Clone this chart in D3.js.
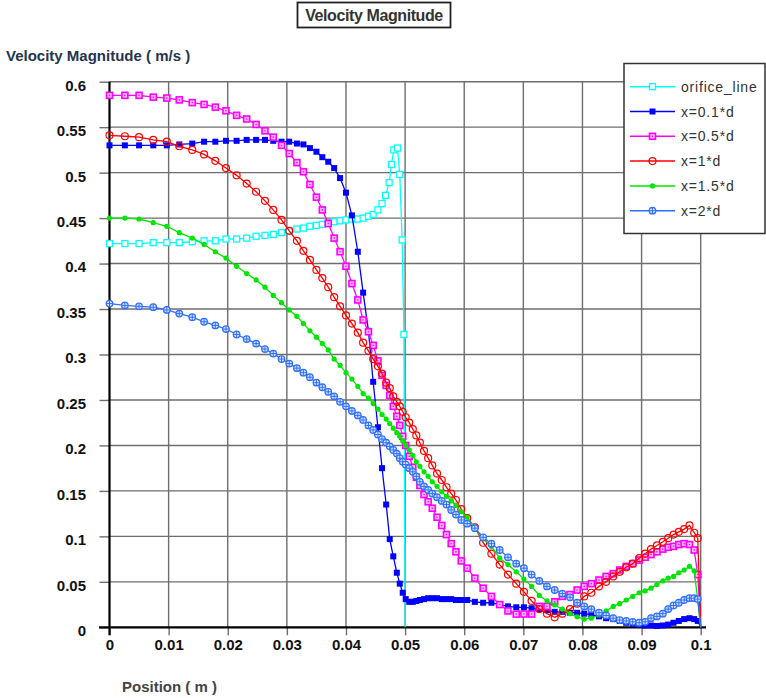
<!DOCTYPE html>
<html>
<head>
<meta charset="utf-8">
<title>Velocity Magnitude</title>
<script src="https://cdnjs.cloudflare.com/ajax/libs/d3/7.8.5/d3.min.js"></script>
<style>
  body { margin: 0; background: #fff; }
  svg { display: block; font-family: "Liberation Sans", Arial, sans-serif; }
</style>
</head>
<body>
<svg width="766" height="698"></svg>
<script>
// mesh positions (m) shared by the axial lines
var meshPos = [0, 0.0026, 0.0050, 0.0074, 0.0097, 0.0118, 0.0140, 0.0160, 0.0179, 0.0197,
  0.0215, 0.0232, 0.0248, 0.0263, 0.0277, 0.0291, 0.0304, 0.0317, 0.0328, 0.0339,
  0.0350, 0.0360, 0.0370, 0.0380, 0.0390, 0.0400, 0.0410, 0.0420, 0.0429, 0.0438,
  0.0446, 0.0454, 0.0461, 0.0468, 0.0474, 0.0480, 0.0486, 0.0491, 0.0496, 0.0501,
  0.0507, 0.0513, 0.0519, 0.0525, 0.0532, 0.0539, 0.0546, 0.0554, 0.0562, 0.0570,
  0.0578, 0.0586, 0.0595, 0.0605, 0.0618, 0.0632, 0.0646, 0.0660, 0.0674, 0.0688,
  0.0701, 0.0714, 0.0727, 0.0740, 0.0753, 0.0766, 0.0779, 0.0791, 0.0803, 0.0815,
  0.0828, 0.0840, 0.0852, 0.0863, 0.0874, 0.0885, 0.0896, 0.0906, 0.0916, 0.0926,
  0.0936, 0.0945, 0.0954, 0.0963, 0.0972, 0.0981, 0.0989, 0.0995, 0.1000];

var vel01d = [.530, .530, .530, .530, .530, .531, .532, .534, .534, .535,
  .535, .536, .536, .536, .535, .534, .534, .532, .531, .527,
  .523, .517, .512, .505, .494, .478, .453, .413, .368, .326,
  .270, .220, .175, .135, .097, .078, .060, .048, .038, .031,
  .028, .028, .029, .030, .031, .032, .032, .032, .031, .031,
  .031, .030, .030, .030, .028, .027, .027, .025, .023, .022,
  .022, .021, .020, .019, .017, .017, .016, .016, .015, .014,
  .012, .010, .009, .007, .005, .004, .003, .002, .002, .0015,
  .002, .003, .005, .007, .009, .010, .009, .007, 0];

var vel05d = [.585, .585, .585, .583, .582, .580, .577, .575, .572, .568,
  .563, .559, .553, .546, .539, .530, .521, .511, .501, .487,
  .473, .459, .444, .428, .413, .397, .378, .360, .338, .325,
  .310, .293, .277, .266, .255, .243, .232, .222, .210, .200,
  .188, .176, .165, .156, .146, .138, .131, .121, .112, .102,
  .092, .083, .073, .065, .054, .043, .034, .025, .018, .0145,
  .0146, .0146, .023, .023, .028, .034, .036, .041, .045, .048,
  .052, .056, .059, .063, .067, .070, .074, .077, .080, .083,
  .086, .088, .089, .091, .092, .091, .085, .058, 0];

var vel1d = [.541, .540, .539, .536, .534, .529, .525, .520, .513, .505,
  .497, .488, .479, .469, .459, .448, .436, .425, .414, .404,
  .393, .384, .374, .363, .353, .343, .334, .324, .313, .304,
  .295, .287, .279, .269, .263, .254, .248, .243, .237, .231,
  .225, .218, .211, .203, .194, .186, .178, .169, .162, .154,
  .147, .140, .130, .120, .110, .093, .081, .069, .058, .048,
  .039, .029, .020, .015, .011, .015, .020, .026, .034, .038,
  .045, .050, .056, .061, .066, .070, .076, .081, .086, .090,
  .094, .098, .102, .105, .108, .112, .104, .098, 0];

var vel15d = [.450, .450, .449, .445, .441, .434, .428, .421, .413, .406,
  .397, .389, .382, .374, .365, .357, .349, .342, .334, .326,
  .319, .312, .305, .295, .288, .280, .273, .265, .257, .252,
  .246, .240, .234, .229, .224, .219, .214, .210, .205, .200,
  .195, .189, .182, .177, .171, .166, .160, .155, .149, .144,
  .139, .134, .127, .121, .109, .097, .089, .076, .069, .061,
  .053, .045, .035, .029, .0245, .020, .015, .0115, .009, .010,
  .0135, .018, .023, .026, .030, .034, .038, .040, .043, .047,
  .051, .054, .056, .060, .063, .067, .062, .030, 0];

var vel2d = [.356, .354, .353, .352, .349, .345, .341, .336, .332, .328,
  .322, .317, .312, .306, .301, .295, .290, .285, .280, .275,
  .269, .264, .259, .254, .248, .243, .238, .233, .228, .222,
  .217, .212, .207, .203, .199, .195, .191, .186, .182, .179,
  .175, .171, .166, .160, .155, .151, .147, .143, .139, .135,
  .129, .124, .118, .114, .109, .099, .092, .085, .077, .070,
  .065, .058, .051, .045, .041, .037, .033, .027, .023, .020,
  .016, .013, .010, .008, .007, .006, .005, .006, .010, .012,
  .015, .020, .024, .027, .030, .032, .032, .031, 0];

// orifice line has its own sampling
var orificePos = [0, 0.0026, 0.0050, 0.0074, 0.0097, 0.0118, 0.0140, 0.0160, 0.0179, 0.0197,
  0.0215, 0.0232, 0.0248, 0.0263, 0.0277, 0.0291, 0.0304, 0.0317, 0.0328, 0.0339,
  0.0350, 0.0360, 0.0370, 0.0380, 0.0390, 0.0400, 0.0410, 0.0420, 0.0429, 0.0438,
  0.0446, 0.0454, 0.0461, 0.0467, 0.0473, 0.0477, 0.0481, 0.0487, 0.0491, 0.0495,
  0.0498, 0.0500];
var orificeVel = [.422, .422, .422, .423, .423, .423, .424, .425, .425, .427,
  .427, .428, .430, .431, .432, .434, .436, .438, .439, .441,
  .442, .443, .445, .446, .447, .448, .449, .449, .450, .452,
  .454, .459, .466, .475, .489, .509, .525, .527, .498, .426,
  .322, 0];

var seriesNames = ["orifice_line", "x=0.1*d", "x=0.5*d", "x=1*d", "x=1.5*d", "x=2*d"];
var seriesColors = ["#00ffff", "#0000ff", "#ff00ff", "#ff0000", "#00e600", "#2f6fff"];
var seriesMarkers = ["openSquare", "filledSquare", "dotSquare", "openCircle", "dot", "crossCircle"];

var xTicks = [0, 0.01, 0.02, 0.03, 0.04, 0.05, 0.06, 0.07, 0.08, 0.09, 0.1];
var xTickLabels = ["0", "0.01", "0.02", "0.03", "0.04", "0.05", "0.06", "0.07", "0.08", "0.09", "0.1"];
var yTicks = [0, 0.05, 0.1, 0.15, 0.2, 0.25, 0.3, 0.35, 0.4, 0.45, 0.5, 0.55, 0.6];
var yTickLabels = ["0", "0.05", "0.1", "0.15", "0.2", "0.25", "0.3", "0.35", "0.4", "0.45", "0.5", "0.55", "0.6"];

var svg = d3.select("svg");
var x = d3.scaleLinear().domain([0, 0.1]).range([109.5, 700.7]);
var y = d3.scaleLinear().domain([0, 0.6]).range([627.3, 81.7]);

// grid
var grid = svg.append("g").attr("stroke", "#6e6e6e").attr("stroke-width", 1.4);
grid.selectAll(".gv").data(xTicks.slice(1)).enter().append("line")
    .attr("x1", d => x(d)).attr("x2", d => x(d))
    .attr("y1", y(0.6)).attr("y2", y(0));
grid.selectAll(".gh").data(yTicks.slice(1)).enter().append("line")
    .attr("x1", x(0)).attr("x2", x(0.1))
    .attr("y1", d => y(d)).attr("y2", d => y(d));

// axes
var yAxis = svg.append("g").attr("transform", "translate(" + x(0) + ",0)")
    .call(d3.axisLeft(y).tickValues(yTicks).tickFormat((d, i) => yTickLabels[i]).tickSize(10).tickPadding(13.5));
var xAxis = svg.append("g").attr("transform", "translate(0," + y(0) + ")")
    .call(d3.axisBottom(x).tickValues(xTicks).tickFormat((d, i) => xTickLabels[i]).tickSize(8).tickPadding(4.5));
[yAxis, xAxis].forEach(function (a) {
    a.select(".domain").remove();
    a.selectAll(".tick line").attr("stroke", "#6e6e6e").attr("stroke-width", 1.4);
    a.selectAll(".tick text").attr("fill", "#111").style("font-size", "15px").style("font-weight", "bold");
});
yAxis.selectAll(".tick text").attr("dy", "0.56em");

svg.append("line").attr("x1", x(0)).attr("x2", x(0)).attr("y1", y(0.6)).attr("y2", y(0) + 8)
    .attr("stroke", "#000").attr("stroke-width", 2.2);
svg.append("line").attr("x1", 99).attr("x2", 706).attr("y1", y(0)).attr("y2", y(0))
    .attr("stroke", "#000").attr("stroke-width", 2.2);

// markers
function drawMarker(g, type, color) {
    if (type == "openSquare") {
        g.append("rect").attr("x", -3).attr("y", -3).attr("width", 6).attr("height", 6)
            .attr("fill", "#fff").attr("stroke", color).attr("stroke-width", 1.3);
    } else if (type == "filledSquare") {
        g.append("rect").attr("x", -3).attr("y", -3).attr("width", 6).attr("height", 6)
            .attr("fill", color);
    } else if (type == "dotSquare") {
        g.append("rect").attr("x", -3).attr("y", -3).attr("width", 6).attr("height", 6)
            .attr("fill", "#ffb8ff").attr("stroke", color).attr("stroke-width", 1.6);
        g.append("circle").attr("r", 0.8).attr("fill", color);
    } else if (type == "openCircle") {
        g.append("circle").attr("r", 3.5).attr("fill", "none").attr("stroke", color).attr("stroke-width", 1.2);
    } else if (type == "dot") {
        g.append("circle").attr("r", 2.6).attr("fill", color);
    } else if (type == "crossCircle") {
        g.append("circle").attr("r", 3.3).attr("fill", "#d8e4ff").attr("stroke", color).attr("stroke-width", 1.2);
        g.append("path").attr("d", "M-3.3,0H3.3M0,-3.3V3.3").attr("stroke", color).attr("stroke-width", 1);
    }
}

var seriesData = [
    d3.zip(orificePos, orificeVel),
    d3.zip(meshPos, vel01d),
    d3.zip(meshPos, vel05d),
    d3.zip(meshPos, vel1d),
    d3.zip(meshPos, vel15d),
    d3.zip(meshPos, vel2d)
];

var line = d3.line().x(d => x(d[0])).y(d => y(d[1]));

seriesData.forEach(function (data, i) {
    var g = svg.append("g");
    g.append("path").attr("d", line(data)).attr("fill", "none")
        .attr("stroke", seriesColors[i]).attr("stroke-width", 1.3);
    g.selectAll("g.m").data(data.slice(0, -1)).enter().append("g")
        .attr("transform", d => "translate(" + x(d[0]) + "," + y(d[1]) + ")")
        .each(function () { drawMarker(d3.select(this), seriesMarkers[i], seriesColors[i]); });
});

// legend
var legend = svg.append("g");
legend.append("rect").attr("x", 624).attr("y", 63.5).attr("width", 141).attr("height", 170)
    .attr("fill", "#fff").attr("stroke", "#333").attr("stroke-width", 1.5);
seriesNames.forEach(function (name, i) {
    var ly = 86.7 + i * 24.8;
    legend.append("line").attr("x1", 630).attr("x2", 675).attr("y1", ly).attr("y2", ly)
        .attr("stroke", seriesColors[i]).attr("stroke-width", 1.5);
    drawMarker(legend.append("g").attr("transform", "translate(652.5," + ly + ")"), seriesMarkers[i], seriesColors[i]);
    legend.append("text").attr("x", 681).attr("y", ly + 5).text(name)
        .style("font-size", "14px").style("letter-spacing", "0.8px").attr("fill", "#333");
});

// title box
svg.append("rect").attr("x", 297.5).attr("y", 2.5).attr("width", 153).attr("height", 25)
    .attr("fill", "#fff").attr("stroke", "#222").attr("stroke-width", 1.8);
svg.append("text").attr("x", 374).attr("y", 21).attr("text-anchor", "middle")
    .text("Velocity Magnitude").style("font-size", "16px").style("font-weight", "bold")
    .style("letter-spacing", "-0.4px").attr("fill", "#333");

// axis titles
svg.append("text").attr("x", 6).attr("y", 61).text("Velocity Magnitude ( m/s )")
    .style("font-size", "15px").style("font-weight", "bold").attr("fill", "#26344f");
svg.append("text").attr("x", 122).attr("y", 692).text("Position ( m )")
    .style("font-size", "15px").style("font-weight", "bold").attr("fill", "#444");
</script>
</body>
</html>
